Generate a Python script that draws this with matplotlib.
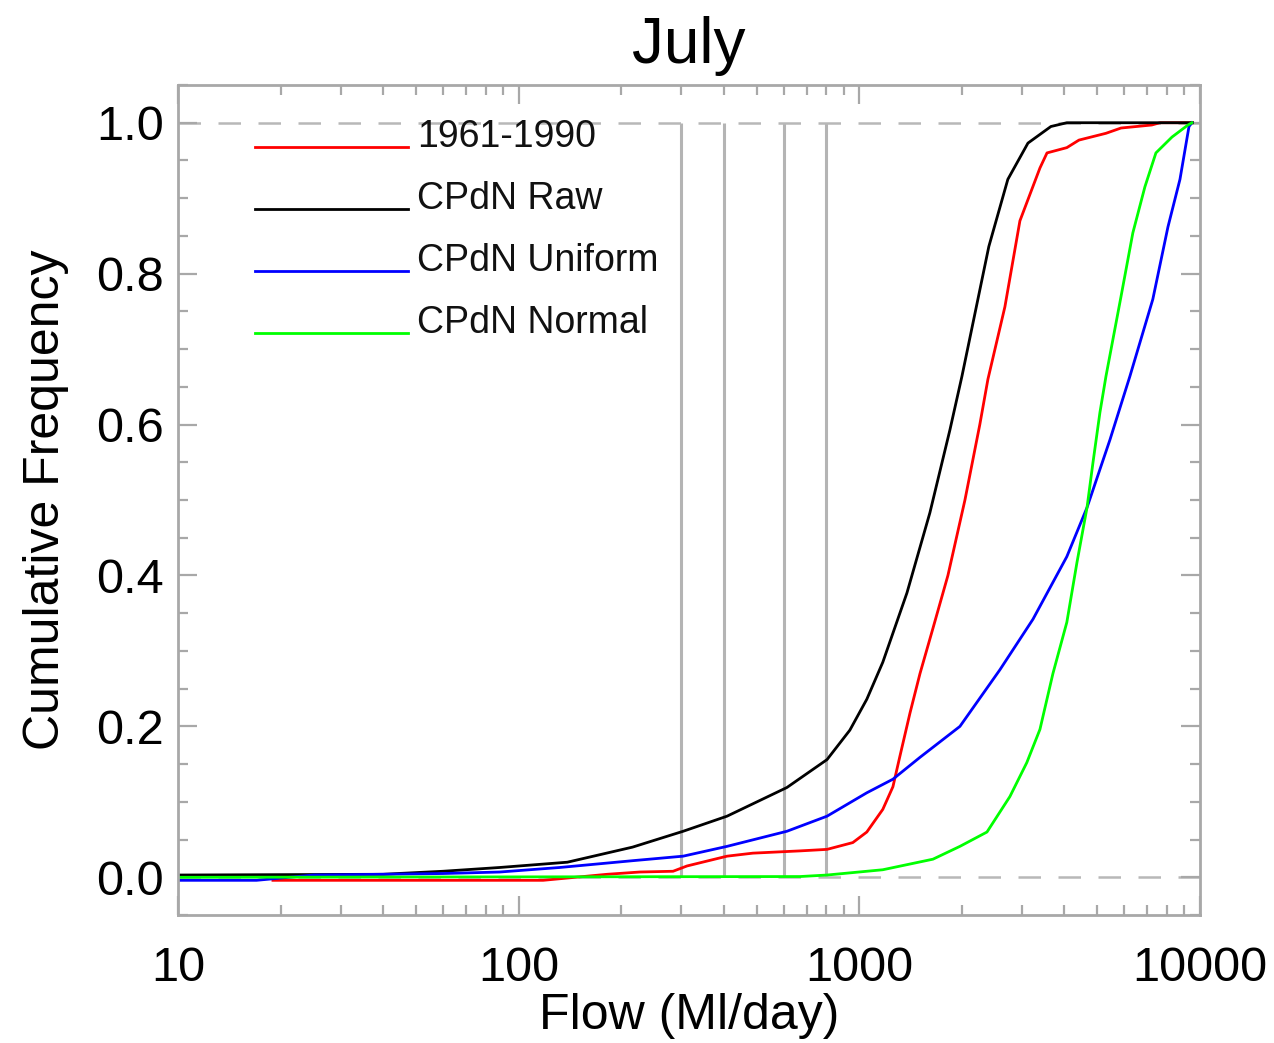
import matplotlib
matplotlib.use("Agg")
import matplotlib.pyplot as plt
from matplotlib.ticker import FixedLocator, NullFormatter, MultipleLocator

plt.rcParams['font.family'] = ['Liberation Sans', 'DejaVu Sans']

# (flow in Ml/day, cumulative frequency)
obs_flow = [19, 118, 182, 227, 284, 312, 409, 487, 670, 804, 957, 1052, 1172, 1255,
            1315, 1409, 1507, 1645, 1820, 2042, 2258, 2385, 2675,
            2961, 3390, 3556, 4066, 4413, 5297, 5866, 7221, 7627, 9500]
obs_freq = [-0.004, -0.004, 0.004, 0.007, 0.008, 0.015, 0.028, 0.032, 0.035, 0.037,
            0.046, 0.06, 0.09, 0.12, 0.16, 0.218, 0.27, 0.33, 0.4, 0.5, 0.6,
            0.66, 0.756, 0.87, 0.94, 0.96, 0.967, 0.977, 0.986,
            0.993, 0.997, 1.0, 1.0]

raw_flow = [10, 40, 60, 88, 139, 216, 304, 409, 613, 804, 938, 1052, 1172, 1380, 1611,
            1845, 2001, 2400, 2729, 3126, 3651, 4066, 9500]
raw_freq = [0.003, 0.004, 0.008, 0.013, 0.02, 0.04, 0.061, 0.081, 0.119, 0.156, 0.195,
            0.236, 0.285, 0.377, 0.483, 0.593, 0.664, 0.836, 0.925, 0.973, 0.995, 1.0, 1.0]

uni_flow = [10, 17, 25, 40, 60, 88, 132, 216, 304, 409, 613, 804, 1052, 1255, 1507,
            1974, 2586, 3234, 4066, 4660, 5443, 6227, 7270, 8054, 8735, 9284, 9470]
uni_freq = [-0.004, -0.004, 0.003, 0.004, 0.005, 0.007, 0.013, 0.022, 0.028, 0.041,
            0.061, 0.081, 0.112, 0.13, 0.159, 0.2, 0.275, 0.342, 0.425, 0.49, 0.58,
            0.664, 0.766, 0.862, 0.925, 0.995, 1.0]

norm_flow = [10, 670, 804, 1172, 1645, 1974, 2370, 2767, 3102, 3390, 3701, 4066, 4353,
             4660, 4853, 5085, 5297, 5866, 6352, 6891, 7424, 8275, 9221, 9470]
norm_freq = [0.0, 0.001, 0.003, 0.01, 0.024, 0.041, 0.06, 0.107, 0.152, 0.196, 0.27,
             0.338, 0.417, 0.49, 0.55, 0.616, 0.664, 0.77, 0.854, 0.915, 0.96, 0.981,
             0.997, 1.0]

ref_flows = [300, 400, 600, 800]

series = [
    (obs_flow, obs_freq, '1961-1990', '#ff0000'),
    (raw_flow, raw_freq, 'CPdN Raw', '#000000'),
    (uni_flow, uni_freq, 'CPdN Uniform', '#0000ff'),
    (norm_flow, norm_freq, 'CPdN Normal', '#00ff00'),
]

axis_grey = '#a8a8a8'

fig = plt.figure(figsize=(12.74, 10.43), dpi=100)
ax = fig.add_axes([0.1397, 0.1227, 0.8022, 0.7958])

ax.set_xscale('log')
ax.set_xlim(10, 10000)
ax.set_ylim(-0.05, 1.05)

# reference lines
ax.vlines(ref_flows, 0, 1, color='#b4b4b4', lw=2.2, zorder=1)
for yv in (0, 1):
    ax.axhline(yv, color='#b8b8b8', lw=1.8, dashes=(9, 7), zorder=1)

for flow, freq, label, color in series:
    ax.plot(flow, freq, color=color, lw=2.0, zorder=2)

# IDL style legend: line, label sitting on it
for i, (flow, freq, label, color) in enumerate(series):
    yl = 0.925 - i * 0.0745
    ax.plot([0.0753, 0.225], [yl, yl], color=color, lw=2.0, transform=ax.transAxes)
    ax.text(0.234, yl, label, transform=ax.transAxes, fontsize=27,
            va='baseline', ha='left', color='#111111')

for s in ax.spines.values():
    s.set_color(axis_grey)
    s.set_linewidth(2)

ax.xaxis.set_major_locator(FixedLocator([10, 100, 1000, 10000]))
ax.xaxis.set_minor_locator(FixedLocator([m * d for d in (10, 100, 1000) for m in range(2, 10)]))
ax.xaxis.set_minor_formatter(NullFormatter())
ax.set_xticklabels(['10', '100', '1000', '10000'])
ax.yaxis.set_major_locator(MultipleLocator(0.2))
ax.yaxis.set_minor_locator(MultipleLocator(0.05))
ax.set_yticks([0, 0.2, 0.4, 0.6, 0.8, 1.0])
ax.set_yticklabels(['0.0', '0.2', '0.4', '0.6', '0.8', '1.0'])

ax.tick_params(which='both', direction='in', top=True, right=True, color=axis_grey, width=1.6)
ax.tick_params(which='major', length=14)
ax.tick_params(which='minor', length=7)
ax.tick_params(axis='x', which='major', labelsize=35, pad=22)
ax.tick_params(axis='y', which='major', labelsize=35, pad=10)

ax.set_title('July', fontsize=46, pad=16)
ax.set_xlabel('Flow (Ml/day)', fontsize=36, labelpad=2)
ax.set_ylabel('Cumulative Frequency', fontsize=36, labelpad=20)

fig.savefig('out.png', dpi=100)
